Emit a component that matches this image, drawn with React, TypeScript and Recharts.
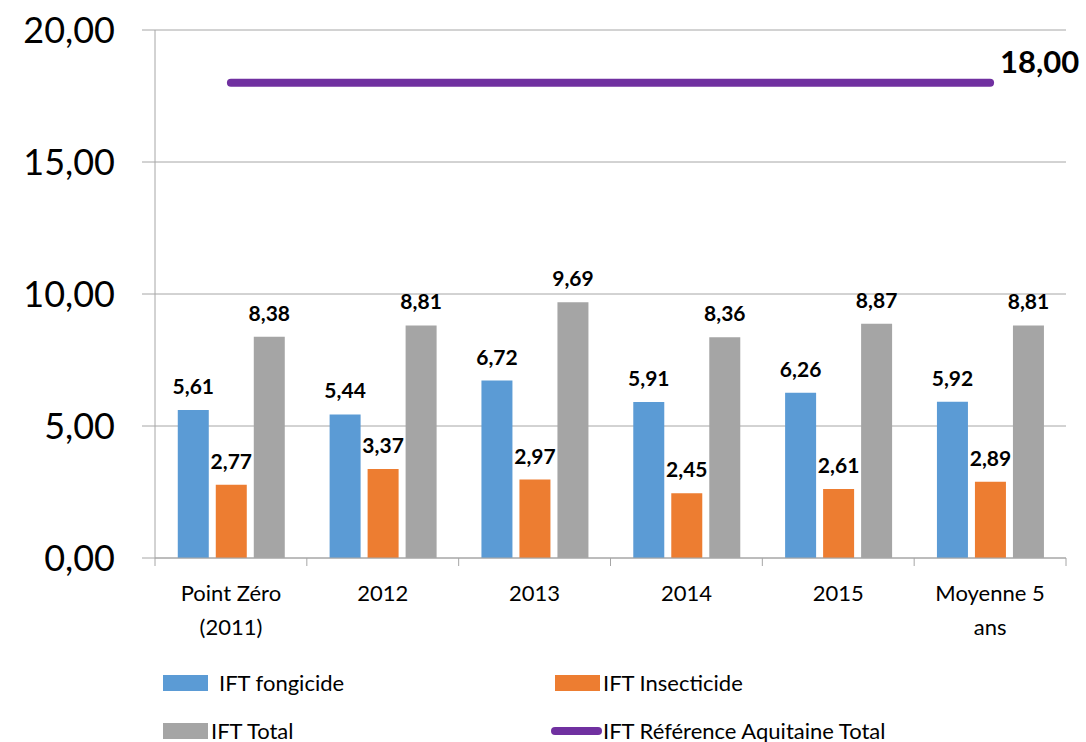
import React from 'react';
import { ComposedChart, Bar, Line, XAxis, YAxis, CartesianGrid, Legend, LabelList } from 'recharts';

const categories = ['Point Zéro\n(2011)', '2012', '2013', '2014', '2015', 'Moyenne 5\nans'];
const fongicide = [5.61, 5.44, 6.72, 5.91, 6.26, 5.92];
const insecticide = [2.77, 3.37, 2.97, 2.45, 2.61, 2.89];
const total = [8.38, 8.81, 9.69, 8.36, 8.87, 8.81];
const reference = [18, 18, 18, 18, 18, 18];
const yTicks = [0, 5, 10, 15, 20];

const FONT = 'Lato, "Open Sans", sans-serif';
const GRID = '#a6a6a6';
const BLUE = '#5b9bd5';
const ORANGE = '#ed7d31';
const GRAY = '#a5a5a5';
const PURPLE = '#7030a0';

const data = categories.map((name, i) => ({
  name,
  fongicide: fongicide[i],
  insecticide: insecticide[i],
  total: total[i],
  reference: reference[i],
}));

const fmt = (v: number) => v.toFixed(2).replace('.', ',');

const XTick = (props: any) => {
  const { x, y, payload, index } = props;
  const half = payload.offset || 76;
  const lines = String(payload.value).split('\n');
  return (
    <g>
      <line x1={x - half} x2={x - half} y1={y - 8} y2={y} stroke={GRID} />
      {index === categories.length - 1 && (
        <line x1={x + half} x2={x + half} y1={y - 8} y2={y} stroke={GRID} />
      )}
      <text x={x} y={y} textAnchor="middle" fontSize={22} fontFamily={FONT} fill="#000">
        {lines.map((l, i) => (
          <tspan key={i} x={x} dy={i === 0 ? 35 : 34}>{l}</tspan>
        ))}
      </text>
    </g>
  );
};

const RefLabel = (props: any) => {
  const { x, y, index, value } = props;
  if (index !== reference.length - 1) return null;
  return (
    <text x={x + 10} y={y - 10} fontSize={31} fontWeight="bold" fontFamily={FONT} fill="#000">
      {fmt(Number(value))}
    </text>
  );
};

// legend drawn by hand, two rows like the original
const legendItems = [
  { label: 'IFT fongicide', color: BLUE, type: 'rect', left: 163, top: 675, textLeft: 219, textTop: 668 },
  { label: 'IFT Insecticide', color: ORANGE, type: 'rect', left: 555, top: 675, textLeft: 603, textTop: 668 },
  { label: 'IFT Total', color: GRAY, type: 'rect', left: 163, top: 723, textLeft: 211, textTop: 716 },
  { label: 'IFT Référence Aquitaine Total', color: PURPLE, type: 'line', left: 551, top: 727, textLeft: 603, textTop: 716 },
];

const CustomLegend = () => (
  <div style={{ position: 'relative', width: 1086, height: 90, fontFamily: FONT }}>
    {legendItems.map((it) => (
      <React.Fragment key={it.label}>
        {it.type === 'rect' ? (
          <div style={{ position: 'absolute', left: it.left, top: it.top - 660, width: 45, height: 16, background: it.color }} />
        ) : (
          <div style={{ position: 'absolute', left: it.left, top: it.top - 660, width: 51, height: 8, borderRadius: 4, background: it.color }} />
        )}
        <div style={{ position: 'absolute', left: it.textLeft, top: it.textTop - 660, fontSize: 22, lineHeight: '30px', color: '#000', whiteSpace: 'nowrap' }}>
          {it.label}
        </div>
      </React.Fragment>
    ))}
  </div>
);

export default function App() {
  return (
    <div style={{ position: 'absolute', left: 0, top: 0, width: 1086, height: 742, background: '#fff', fontFamily: FONT, overflow: 'hidden' }}>
      <ComposedChart
        width={1086}
        height={742}
        data={data}
        margin={{ top: 30, right: 20, bottom: 124, left: 0 }}
        barGap={7}
        barCategoryGap="15%"
      >
        <CartesianGrid vertical={false} stroke={GRID} />
        <XAxis
          dataKey="name"
          interval={0}
          height={60}
          axisLine={{ stroke: GRID }}
          tickLine={false}
          tickSize={8}
          tickMargin={0}
          tick={<XTick />}
        />
        <YAxis
          width={155}
          domain={[0, 20]}
          ticks={yTicks}
          interval={0}
          tickFormatter={fmt}
          axisLine={{ stroke: GRID }}
          tickLine={{ stroke: GRID }}
          tickSize={13}
          tickMargin={27}
          tick={{ fontSize: 36, fill: '#000', fontFamily: FONT }}
        />
        <Legend
          layout="horizontal"
          verticalAlign="middle"
          align="center"
          content={<CustomLegend />}
          wrapperStyle={{ position: 'absolute', left: 0, top: 660, width: 1086, height: 90 }}
        />
        <Bar dataKey="fongicide" fill={BLUE} isAnimationActive={false}>
          <LabelList dataKey="fongicide" position="top" offset={16} formatter={(v: any) => fmt(Number(v))}
            style={{ fontSize: 21, fontWeight: 'bold', fill: '#000', fontFamily: FONT }} />
        </Bar>
        <Bar dataKey="insecticide" fill={ORANGE} isAnimationActive={false}>
          <LabelList dataKey="insecticide" position="top" offset={16} formatter={(v: any) => fmt(Number(v))}
            style={{ fontSize: 21, fontWeight: 'bold', fill: '#000', fontFamily: FONT }} />
        </Bar>
        <Bar dataKey="total" fill={GRAY} isAnimationActive={false}>
          <LabelList dataKey="total" position="top" offset={16} formatter={(v: any) => fmt(Number(v))}
            style={{ fontSize: 21, fontWeight: 'bold', fill: '#000', fontFamily: FONT }} />
        </Bar>
        <Line
          dataKey="reference"
          stroke={PURPLE}
          strokeWidth={8}
          strokeLinecap="round"
          dot={false}
          activeDot={false}
          isAnimationActive={false}
        >
          <LabelList dataKey="reference" content={<RefLabel />} />
        </Line>
      </ComposedChart>
    </div>
  );
}
